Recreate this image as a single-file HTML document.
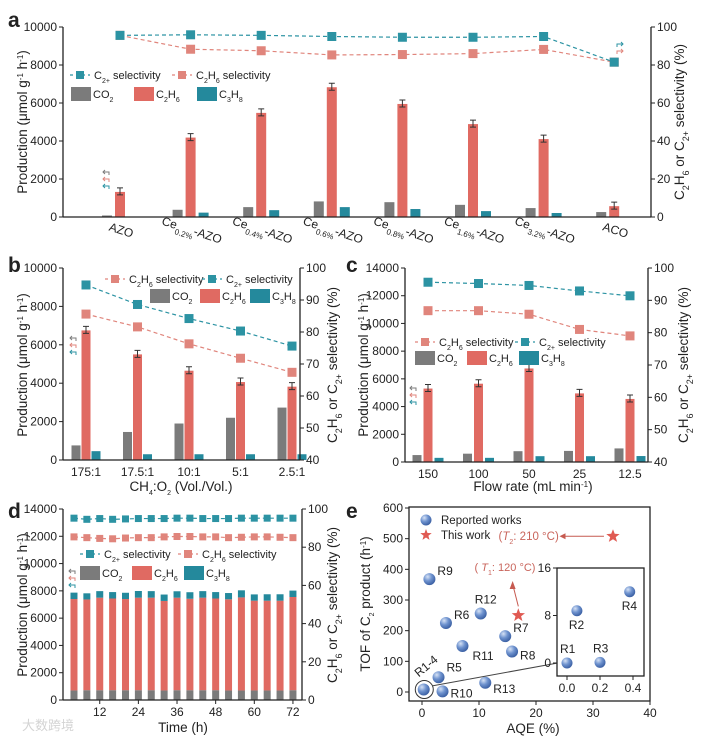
<!DOCTYPE html>
<html><head><meta charset="utf-8"><style>
html,body{margin:0;padding:0;background:#fff;}
svg{display:block;font-family:"Liberation Sans","Noto Sans CJK SC",sans-serif;}
</style></head><body>
<svg id="chart" width="701" height="740" viewBox="0 0 701 740" fill="#222" xmlns="http://www.w3.org/2000/svg"></svg>
<script>
// ---------- Panel a data ----------
const aCats=['AZO','Ce<tspan baseline-shift="sub" font-size="8">0.2%</tspan>-AZO','Ce<tspan baseline-shift="sub" font-size="8">0.4%</tspan>-AZO','Ce<tspan baseline-shift="sub" font-size="8">0.6%</tspan>-AZO','Ce<tspan baseline-shift="sub" font-size="8">0.8%</tspan>-AZO','Ce<tspan baseline-shift="sub" font-size="8">1.6%</tspan>-AZO','Ce<tspan baseline-shift="sub" font-size="8">3.2%</tspan>-AZO','ACO'];
const aCO2=[80,380,520,820,780,640,470,260];
const aC2H6=[1320,4180,5480,6830,5950,4890,4100,570];
const aC3H8=[0,230,360,520,420,310,210,0];
const aSelC2p=[95.6,95.9,95.6,95.0,94.6,94.6,95.0,81.5];
const aSelC2H6=[95.6,88.3,87.5,85.3,85.5,86.0,88.2,81.5];
const aYTicks=[0,2000,4000,6000,8000,10000];
const aRTicks=[0,20,40,60,80,100];
// ---------- Panel b data ----------
const bCats=['175:1','17.5:1','10:1','5:1','2.5:1'];
const bCO2=[760,1460,1900,2200,2730];
const bC2H6=[6750,5500,4650,4060,3820];
const bC3H8=[460,300,300,300,300];
const bSelC2p=[94.7,88.6,84.2,80.3,75.6];
const bSelC2H6=[85.6,81.6,76.3,71.8,67.4];
const bYTicks=[0,2000,4000,6000,8000,10000];
const bRTicks=[40,50,60,70,80,90,100];
// ---------- Panel c data ----------
const cCats=['150','100','50','25','12.5'];
const cCO2=[500,600,780,800,980];
const cC2H6=[5300,5650,6750,4950,4550];
const cC3H8=[300,300,420,420,430];
const cSelC2p=[95.6,95.2,94.6,92.9,91.4];
const cSelC2H6=[86.8,86.8,85.7,81.0,79.0];
const cYTicks=[0,2000,4000,6000,8000,10000,12000,14000];
const cRTicks=[40,50,60,70,80,90,100];
// ---------- Panel d data ----------
const dTimes=[4,8,12,16,20,24,28,32,36,40,44,48,52,56,60,64,68,72];
const dCO2=[700,720,720,720,720,720,720,700,720,720,720,720,700,700,700,700,700,720];
const dC2H6=[6700,6650,6780,6720,6680,6780,6780,6560,6780,6700,6780,6720,6680,6820,6580,6580,6580,6830];
const dC3H8=[470,450,480,470,460,490,480,470,470,480,480,470,460,520,460,470,470,470];
const dSelC2p=[95.2,94.6,95.0,94.6,94.8,95.0,95.0,95.0,95.2,95.2,95.0,95.0,95.0,95.2,95.2,95.2,95.2,95.2];
const dSelC2H6=[85.4,85.0,84.6,84.4,84.8,85.0,85.0,85.4,85.6,85.6,85.4,85.4,85.0,85.2,85.4,85.4,85.2,85.0];
const dXTicks=[12,24,36,48,60,72];
const dYTicks=[0,2000,4000,6000,8000,10000,12000,14000];
const dRTicks=[0,20,40,60,80,100];
// ---------- Panel e data ----------
const eLabels=['R9','R6','R12','R7','R11','R8','R5','R13','R10'];
const eAQE=[1.3,4.2,10.3,14.6,7.1,15.8,2.9,11.1,3.6];
const eTOF=[368,225,256,182,150,132,48,30,2];
const eStarAQE=[16.9,33.5];
const eStarTOF=[250,508];
const eInsetLabels=['R1','R2','R3','R4'];
const eInsetAQE=[0.0,0.06,0.2,0.38];
const eInsetTOF=[0.0,8.8,0.1,12.0];
const eXTicks=[0,10,20,30,40];
const eYTicks=[0,100,200,300,400,500,600];

const NS='http://www.w3.org/2000/svg';
const svg=document.getElementById('chart');
const GRAY='#7b7b7b',RED='#e06a62',TEAL='#24899c',LRED='#e0857c',LTEAL='#2c93a3';
function mk(tag,attrs,parent){const e=document.createElementNS(NS,tag);for(const k in attrs)e.setAttribute(k,attrs[k]);(parent||svg).appendChild(e);return e;}
function txt(x,y,html,attrs,parent){const t=mk('text',Object.assign({x:x,y:y,'font-size':12},attrs||{}),parent);t.innerHTML=html;return t;}
const PROD='Production (μmol g<tspan baseline-shift="super" font-size="8">-1</tspan> h<tspan baseline-shift="super" font-size="8">-1</tspan>)';
const RSEL='C<tspan baseline-shift="sub" font-size="9">2</tspan>H<tspan baseline-shift="sub" font-size="9">6</tspan> or C<tspan baseline-shift="sub" font-size="9">2+</tspan> selectivity (%)';
const SUB=s=>'<tspan baseline-shift="sub" font-size="7">'+s+'</tspan>';

function yAxis(x,ticks,sc,side,name){
  const g=mk('g',{});
  
  
  mk('line',{x1:x,x2:x,y1:sc(ticks[0]),y2:sc(ticks[ticks.length-1]),stroke:'#222','stroke-width':1.3},g);
  ticks.forEach(v=>{const y=sc(v);
    mk('line',{x1:x,x2:x+(side==='l'?-4:4),y1:y,y2:y,stroke:'#222'},g);
    const t=txt(x+(side==='l'?-6:6),y+4,String(v),{'text-anchor':side==='l'?'end':'start'},g);
    
    
  });
}
function bars(g,xs,vals,off,w,ys,color,name,base){
  vals.forEach((v,i)=>{
    const b0=base?base[i]:0;
    const r=mk('rect',{x:xs(i)+off-w/2,y:ys(b0+v),width:w,height:Math.max(0,ys(b0)-ys(b0+v)),fill:color},g);
    
    
  });
}
function errs(g,xs,vals,off,ys){
  vals.forEach((v,i)=>{if(v<=0)return;const x=xs(i)+off,y=ys(v);
    const p=mk('path',{d:`M${x-3},${y-4}H${x+3}M${x},${y-4}V${y+3}M${x-3},${y+3}H${x+3}`,stroke:'#333','stroke-width':1,fill:'none'},g);
    
    });
}
function selLine(g,xs,vals,ys,color,name,sz){
  const d=vals.map((v,i)=>(i?'L':'M')+xs(i)+','+ys(v)).join('');
  const p=mk('path',{d:d,stroke:color,'stroke-width':1.2,'stroke-dasharray':'4,3',fill:'none'},g);
  
  
  vals.forEach((v,i)=>{const r=mk('rect',{x:xs(i)-sz/2,y:ys(v)-sz/2,width:sz,height:sz,fill:color},g);
    
    });
}
function legendLine(x,y,label,color,name){
  const g=mk('g',{});
  
  
  mk('line',{x1:x,x2:x+20,y1:y,y2:y,stroke:color,'stroke-width':1.2,'stroke-dasharray':'3,3'},g);
  mk('rect',{x:x+6,y:y-4,width:8,height:8,fill:color},g);
  txt(x+24,y+4,label,{'font-size':11},g);
}
function legendBars(x,y,gap){
  const items=[['CO'+SUB('2'),GRAY,'legend-co2'],['C'+SUB('2')+'H'+SUB('6'),RED,'legend-c2h6'],['C'+SUB('3')+'H'+SUB('8'),TEAL,'legend-c3h8']];
  items.forEach((it,i)=>{const g=mk('g',{});
    
    
    const xx=x+i*gap;
    mk('rect',{x:xx,y:y-7,width:20,height:14,fill:it[1]},g);
    txt(xx+22,y+4,it[0],{'font-size':11},g);});
}
function panelLabel(x,y,s){const t=txt(x,y,s,{'font-size':21,'font-weight':'bold'});
  
  }
function vTitle(x,y,html,name){const t=txt(0,0,html,{'font-size':13.5,'text-anchor':'middle',transform:`translate(${x},${y}) rotate(-90)`});
  
  }
function bottomLine(x1,x2,y){mk('line',{x1:x1,x2:x2,y1:y,y2:y,stroke:'#222','stroke-width':1.3});}
function hints(x,y,dir){const cols=dir==='l'?[GRAY,LRED,LTEAL]:[LTEAL,LRED];
  cols.forEach((c,i)=>{const yy=y+i*7;
    const p=mk('path',{d:dir==='l'?`M${x+6},${yy+3}V${yy}H${x}M${x+2},${yy-2}L${x},${yy}L${x+2},${yy+2}`:`M${x},${yy+3}V${yy}H${x+6}M${x+4},${yy-2}L${x+6},${yy}L${x+4},${yy+2}`,stroke:c,fill:'none','stroke-width':1});
    
    });}

// ===== Panel a =====
(function(){
  const ys=v=>217-v*0.019, yr=p=>217-p*1.9, xs=i=>120+i*70.6;
  const g=mk('g',{});
  
  
  panelLabel(8,27,'a');
  bars(g,xs,aCO2,-13,10,ys,GRAY,'bar-co2');
  bars(g,xs,aC2H6,0,10,ys,RED,'bar-c2h6');
  bars(g,xs,aC3H8,13,10,ys,TEAL,'bar-c3h8');
  errs(g,xs,aC2H6,0,ys);
  selLine(g,xs,aSelC2H6,yr,LRED,'c2h6-selectivity',9);
  selLine(g,xs,aSelC2p,yr,LTEAL,'c2plus-selectivity',9);
  yAxis(63,aYTicks,ys,'l','y-axis-left-a');
  yAxis(651,aRTicks,yr,'r','y-axis-right-a');
  bottomLine(63,651,217);
  aCats.forEach((c,i)=>{const t=txt(0,0,c,{'text-anchor':'middle',transform:`translate(${xs(i)},${234}) rotate(18)`});
    
    });
  legendLine(70,75,'C'+SUB('2+')+' selectivity',LTEAL,'legend-c2plus-selectivity');
  legendLine(172,75,'C'+SUB('2')+'H'+SUB('6')+' selectivity',LRED,'legend-c2h6-selectivity');
  legendBars(71,94,63);
  vTitle(27,122,PROD,'y-axis-title-left-a');
  vTitle(684,122,RSEL,'y-axis-title-right-a');
  hints(103,172,'l');
  hints(617,44,'r');
})();

// ===== Panel b =====
(function(){
  const ys=v=>460-v*0.0192, yr=p=>460-(p-40)*3.2, xs=i=>86+i*51.5;
  const g=mk('g',{});
  
  
  panelLabel(8,272,'b');
  bars(g,xs,bCO2,-10,9,ys,GRAY,'bar-co2');
  bars(g,xs,bC2H6,0,9,ys,RED,'bar-c2h6');
  bars(g,xs,bC3H8,10,9,ys,TEAL,'bar-c3h8');
  errs(g,xs,bC2H6,0,ys);
  selLine(g,xs,bSelC2H6,yr,LRED,'c2h6-selectivity',9);
  selLine(g,xs,bSelC2p,yr,LTEAL,'c2plus-selectivity',9);
  yAxis(63,bYTicks,ys,'l','y-axis-left-b');
  yAxis(300,bRTicks,yr,'r','y-axis-right-b');
  bottomLine(63,300,460);
  bCats.forEach((c,i)=>{const t=txt(xs(i),476,c,{'text-anchor':'middle'});
    
    });
  const xt=txt(181,491,'CH'+SUB('4')+':O'+SUB('2')+' (Vol./Vol.)',{'font-size':13.5,'text-anchor':'middle'});
  
  
  legendLine(105,279,'C'+SUB('2')+'H'+SUB('6')+' selectivity',LRED,'legend-c2h6-selectivity');
  legendLine(202,279,'C'+SUB('2+')+' selectivity',LTEAL,'legend-c2plus-selectivity');
  legendBars(150,296,50);
  vTitle(27,365,PROD,'y-axis-title-left-b');
  vTitle(337,365,RSEL,'y-axis-title-right-b');
  hints(70,338,'l');
})();

// ===== Panel c =====
(function(){
  const ys=v=>462-v*194/14000, yr=p=>462-(p-40)*194/60, xs=i=>428+i*50.5;
  const g=mk('g',{});
  
  
  panelLabel(346,272,'c');
  bars(g,xs,cCO2,-11,9,ys,GRAY,'bar-co2');
  bars(g,xs,cC2H6,0,9,ys,RED,'bar-c2h6');
  bars(g,xs,cC3H8,11,9,ys,TEAL,'bar-c3h8');
  errs(g,xs,cC2H6,0,ys);
  selLine(g,xs,cSelC2H6,yr,LRED,'c2h6-selectivity',9);
  selLine(g,xs,cSelC2p,yr,LTEAL,'c2plus-selectivity',9);
  yAxis(405,cYTicks,ys,'l','y-axis-left-c');
  yAxis(648,cRTicks,yr,'r','y-axis-right-c');
  bottomLine(405,648,462);
  cCats.forEach((c,i)=>{const t=txt(xs(i),478,c,{'text-anchor':'middle'});
    
    });
  const xt=txt(533,491,'Flow rate (mL min<tspan baseline-shift="super" font-size="8">-1</tspan>)',{'font-size':13.5,'text-anchor':'middle'});
  
  
  legendLine(415,342,'C'+SUB('2')+'H'+SUB('6')+' selectivity',LRED,'legend-c2h6-selectivity');
  legendLine(515,342,'C'+SUB('2+')+' selectivity',LTEAL,'legend-c2plus-selectivity');
  legendBars(415,358,52);
  vTitle(368,365,PROD,'y-axis-title-left-c');
  vTitle(688,365,RSEL,'y-axis-title-right-c');
  hints(410,388,'l');
})();

// ===== Panel d =====
(function(){
  const ys=v=>700-v*191/14000, yr=p=>700-p*1.91, xt=t=>61.1+t*3.22, xs=i=>xt(dTimes[i]);
  const g=mk('g',{});
  
  
  panelLabel(8,518,'d');
  const base2=dCO2.map(v=>v), base3=dCO2.map((v,i)=>v+dC2H6[i]);
  bars(g,xs,dCO2,0,7,ys,GRAY,'bar-co2');
  bars(g,xs,dC2H6,0,7,ys,RED,'bar-c2h6',base2);
  bars(g,xs,dC3H8,0,7,ys,TEAL,'bar-c3h8',base3);
  selLine(g,xs,dSelC2H6,yr,LRED,'c2h6-selectivity',7);
  selLine(g,xs,dSelC2p,yr,LTEAL,'c2plus-selectivity',7);
  yAxis(63,dYTicks,ys,'l','y-axis-left-d');
  yAxis(302,dRTicks,yr,'r','y-axis-right-d');
  bottomLine(63,302,700);
  dXTicks.forEach(v=>{mk('line',{x1:xt(v),x2:xt(v),y1:700,y2:704,stroke:'#222'});
    const t=txt(xt(v),716,String(v),{'text-anchor':'middle'});
    
    });
  const tt=txt(183,732,'Time (h)',{'font-size':13.5,'text-anchor':'middle'});
  
  
  legendLine(80,554,'C'+SUB('2+')+' selectivity',LTEAL,'legend-c2plus-selectivity');
  legendLine(178,554,'C'+SUB('2')+'H'+SUB('6')+' selectivity',LRED,'legend-c2h6-selectivity');
  legendBars(80,573,52);
  vTitle(27,605,PROD,'y-axis-title-left-d');
  vTitle(337,605,RSEL,'y-axis-title-right-d');
  hints(69,571,'l');
  const w=txt(22,730,'大数跨境',{'font-size':13,fill:'#d4d4d4'});
  
  
})();

// ===== Panel e =====
(function(){
  const xs=a=>422+a*5.7, ys=t=>692-t*184/600;
  const xi=a=>567+a*165, yi=t=>663-t*95/16;
  const g=mk('g',{});
  
  
  panelLabel(346,518,'e');
  const defs=mk('defs',{});
  const rg=mk('radialGradient',{id:'ball',cx:'0.35',cy:'0.3',r:'0.7'},defs);
  mk('stop',{offset:'0','stop-color':'#d6e2f5'},rg);mk('stop',{offset:'0.5','stop-color':'#6f93cf'},rg);mk('stop',{offset:'1','stop-color':'#3d62a5'},rg);
  const fr=mk('rect',{x:409,y:507,width:241,height:194,fill:'none',stroke:'#222','stroke-width':1.3},g);
  
  
  eYTicks.forEach(v=>{mk('line',{x1:409,x2:405,y1:ys(v),y2:ys(v),stroke:'#222'},g);
    const t=txt(403,ys(v)+4,String(v),{'text-anchor':'end'},g);
    
    });
  eXTicks.forEach(v=>{mk('line',{x1:xs(v),x2:xs(v),y1:701,y2:705,stroke:'#222'},g);
    const t=txt(xs(v),717,String(v),{'text-anchor':'middle'},g);
    
    });
  const xt=txt(533,733,'AQE (%)',{'font-size':13.5,'text-anchor':'middle'});
  
  
  vTitle(370,604,'TOF of C'+SUB('2')+' product (h<tspan baseline-shift="super" font-size="8">-1</tspan>)','y-axis-title-e');
  const star=(x,y,r)=>{let d='';for(let k=0;k<10;k++){const a=-Math.PI/2+k*Math.PI/5,rr=k%2?r*0.42:r;d+=(k?'L':'M')+(x+rr*Math.cos(a)).toFixed(1)+','+(y+rr*Math.sin(a)).toFixed(1);}return d+'Z';};
  const lofs={R9:[8,-4],R6:[8,-4],R12:[-6,-10],R7:[8,-4],R11:[10,14],R8:[8,8],R5:[8,-6],R13:[8,10],R10:[8,6]};
  eAQE.forEach((a,i)=>{const c=mk('circle',{cx:xs(a),cy:ys(eTOF[i]),r:6,fill:'url(#ball)'},g);
    
    
    const o=lofs[eLabels[i]]||[8,-4];
    const t=txt(xs(a)+o[0],ys(eTOF[i])+o[1],eLabels[i],{},g);
    
    });
  const cl=mk('ellipse',{cx:xs(0.4),cy:ys(8),rx:9,ry:9,fill:'none',stroke:'#333'},g);
  
  
  mk('circle',{cx:xs(0.3),cy:ys(8),r:6,fill:'url(#ball)'},g);
  txt(0,0,'R1-4',{transform:`translate(${xs(0.3)-5},${ys(8)-12}) rotate(-40)`},g);
  const ar=mk('path',{d:`M${xs(1.8)},${ys(20)}L${xi(-0.02)-6},${yi(0)}`,stroke:'#444',fill:'none'},g);
  
  
  mk('path',{d:`M${xi(-0.02)},${yi(0)}l-7,-4l1,4l-1,4z`,fill:'#444'},g);
  eStarAQE.forEach((a,i)=>{const s=mk('path',{d:star(xs(a),ys(eStarTOF[i]),7),fill:'#e05a52'},g);
    
    });
  mk('path',{d:`M${xs(33.5)-9},${ys(508)}H${xs(25)}`,stroke:'#c65a50',fill:'none'},g);
  mk('path',{d:`M${xs(25)-5},${ys(508)}l6,-3v6z`,fill:'#c65a50'},g);
  const a2=txt(xs(24),ys(508)+4,'(<tspan font-style="italic">T</tspan>'+SUB('2')+': 210 °C)',{'text-anchor':'end','font-size':11.5,fill:'#c9655c'},g);
  
  
  mk('path',{d:`M${xs(16.9)},${ys(250)-9}L${xs(16)},${ys(345)}`,stroke:'#c65a50',fill:'none'},g);
  mk('path',{d:`M${xs(15.9)},${ys(362)}l-3,8h6z`,fill:'#c65a50'},g);
  const a1=txt(505,ys(395),'( <tspan font-style="italic">T</tspan>'+SUB('1')+': 120 °C)',{'text-anchor':'middle','font-size':11,fill:'#c9655c'},g);
  
  
  const lg=mk('g',{});
  
  
  mk('circle',{cx:426,cy:520,r:5.5,fill:'url(#ball)'},lg);
  txt(441,524,'Reported works',{'font-size':11.5},lg);
  mk('path',{d:star(426,535,6),fill:'#e05a52'},lg);
  txt(441,539,'This work',{'font-size':11.5},lg);
  const ins=mk('g',{});
  
  
  mk('rect',{x:557,y:568,width:87,height:108,fill:'#fff',stroke:'#222','stroke-width':1.3},ins);
  [0,8,16].forEach(v=>{mk('line',{x1:557,x2:553,y1:yi(v),y2:yi(v),stroke:'#222'},ins);
    const t=txt(551,yi(v)+4,String(v),{'text-anchor':'end'},ins);
    
    });
  [0,0.2,0.4].forEach(v=>{mk('line',{x1:xi(v),x2:xi(v),y1:676,y2:680,stroke:'#222'},ins);
    const t=txt(xi(v),692,v.toFixed(1),{'text-anchor':'middle'},ins);
    
    });
  const iof={R1:[-7,-10],R2:[-8,18],R3:[-7,-10],R4:[-8,18]};
  eInsetAQE.forEach((a,i)=>{const c=mk('circle',{cx:xi(a),cy:yi(eInsetTOF[i]),r:5.5,fill:'url(#ball)'},ins);
    
    
    const o=iof[eInsetLabels[i]];
    const t=txt(xi(a)+o[0],yi(eInsetTOF[i])+o[1],eInsetLabels[i],{},ins);
    
    });
})();
</script>
</body></html>
